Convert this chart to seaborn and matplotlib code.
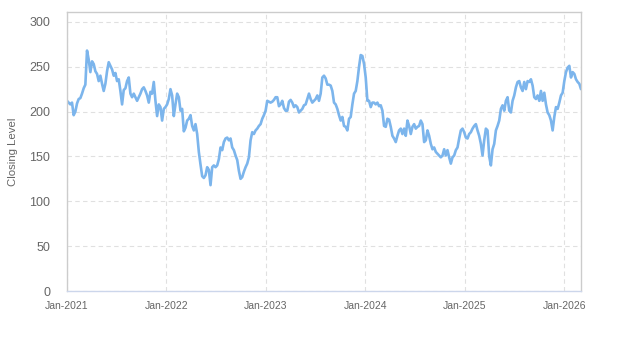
import matplotlib
matplotlib.use("Agg")
import matplotlib.pyplot as plt
import matplotlib.dates as mdates
import seaborn as sns
import pandas as pd

start_date = "2021-01-01"
end_date = "2026-03-03"

closing_2021 = [212, 210, 208, 210, 196, 200, 209, 214, 215, 220, 226, 230, 268, 258, 244, 256, 253, 245,
                242, 234, 240, 231, 223, 231, 245, 255, 251, 247, 240, 243, 234, 236, 223, 208, 224, 226,
                234, 238, 220, 216, 220, 216, 212, 216, 220, 225, 227, 223, 218, 210]
closing_2022 = [222, 220, 233, 212, 195, 208, 205, 190, 203, 205, 208, 214, 225, 218, 195, 208, 220, 216,
                201, 203, 178, 182, 190, 192, 196, 184, 179, 186, 175, 155, 141, 128, 126, 129, 138, 135,
                118, 138, 140, 138, 140, 147, 160, 157, 166, 170, 171, 168, 170, 160, 157, 151, 146, 134]
closing_2023 = [125, 127, 133, 138, 142, 149, 168, 177, 175, 179, 181, 184, 186, 192, 196, 201, 212, 211,
                210, 211, 213, 216, 216, 206, 208, 212, 204, 201, 201, 211, 213, 210, 205, 207, 205, 199,
                201, 203, 207, 208, 214, 220, 214, 210, 212, 214, 218, 212, 220, 238, 240, 237, 230, 230]
closing_2024 = [229, 223, 210, 208, 203, 196, 190, 194, 184, 183, 179, 192, 194, 208, 220, 223, 234, 250,
                263, 262, 253, 238, 212, 212, 205, 210, 210, 208, 210, 206, 207, 201, 184, 183, 192, 191,
                183, 173, 170, 166, 173, 179, 181, 175, 181, 173, 190, 184, 175, 183, 186, 181, 183, 184]
closing_2025 = [190, 186, 166, 168, 179, 173, 164, 158, 160, 155, 153, 151, 149, 151, 158, 151, 157, 149,
                142, 149, 151, 157, 160, 170, 179, 181, 177, 171, 170, 175, 177, 181, 184, 186, 179, 173,
                164, 151, 168, 181, 179, 150, 140, 158, 164, 179, 184, 190]
closing_2026 = [203, 207, 201, 212, 216, 201, 199, 212, 218, 227, 233, 234, 227, 223, 233, 225, 234, 233,
                236, 229, 216, 214, 218, 212, 223, 212, 221, 208, 199, 196, 190, 179, 194, 205, 203, 210,
                218, 221, 234, 244, 249, 251, 238, 244, 242, 236, 233, 231, 225]

values = closing_2021 + closing_2022 + closing_2023 + closing_2024 + closing_2025 + closing_2026
dates = pd.date_range(start_date, end_date, periods=len(values))
df = pd.DataFrame({"Date": dates, "Closing Level": values})

sns.set_theme(style="white")
plt.rcParams["font.family"] = ["Liberation Sans", "DejaVu Sans"]

fig = plt.figure(figsize=(6.23, 3.5), dpi=100)
ax = fig.add_axes([67 / 623, 1 - 291 / 350, (581 - 67) / 623, (291 - 12) / 350])

sns.lineplot(data=df, x="Date", y="Closing Level", ax=ax, color="#7cb5ec", linewidth=1.9)

ax.set_xlim(dates[0], dates[-1])
ax.set_ylim(0, 311)
ax.set_yticks([0, 50, 100, 150, 200, 250, 300])
ax.xaxis.set_major_locator(mdates.YearLocator())
ax.xaxis.set_major_formatter(mdates.DateFormatter("%b-%Y"))

ax.grid(True, color="#e0e0e0", linestyle=(0, (4, 3)), linewidth=0.8)
for side in ["left", "right", "top"]:
    ax.spines[side].set_color("#cccccc")
    ax.spines[side].set_linewidth(1)
ax.spines["bottom"].set_color("#ccd6eb")
ax.spines["bottom"].set_linewidth(1)

ax.tick_params(axis="y", length=0, labelsize=9, labelcolor="#666666", pad=12)
ax.tick_params(axis="x", length=0, labelsize=7.5, labelcolor="#666666", pad=7)
ax.set_xlabel("")
ax.set_ylabel("Closing Level", fontsize=8.2, color="#666666", labelpad=8)

fig.savefig("out.png", dpi=100)
